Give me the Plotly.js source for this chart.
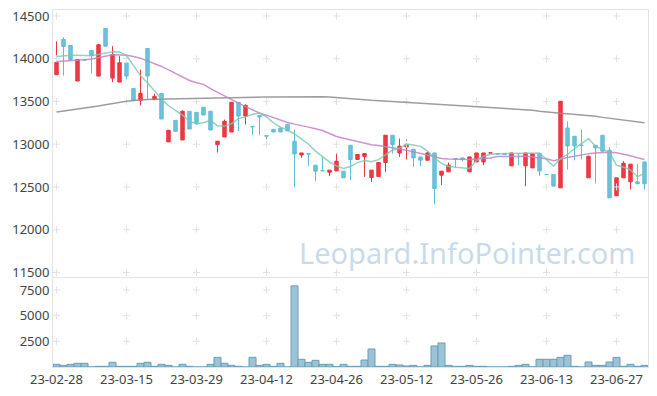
<!DOCTYPE html>
<html>
<head>
<meta charset="utf-8">
<script src="https://cdn.plot.ly/plotly-3.0.1.min.js"></script>
<style>html,body{margin:0;padding:0;background:#fff;}#chart{width:657px;height:396px;}</style>
</head>
<body>
<div id="chart"></div>
<script>
const dates = ["23-02-28",
"23-03-02","23-03-03","23-03-06","23-03-07","23-03-08","23-03-09","23-03-10","23-03-13","23-03-14","23-03-15","23-03-16","23-03-17","23-03-20","23-03-21","23-03-22","23-03-23","23-03-24","23-03-27","23-03-28","23-03-29","23-03-30","23-03-31",
"23-04-03","23-04-04","23-04-05","23-04-06","23-04-07","23-04-10","23-04-11","23-04-12","23-04-13","23-04-14","23-04-17","23-04-18","23-04-19","23-04-20","23-04-21","23-04-24","23-04-25","23-04-26","23-04-27","23-04-28",
"23-05-02","23-05-03","23-05-04","23-05-08","23-05-09","23-05-10","23-05-11","23-05-12","23-05-15","23-05-16","23-05-17","23-05-18","23-05-19","23-05-22","23-05-23","23-05-24","23-05-25","23-05-26","23-05-30","23-05-31",
"23-06-01","23-06-02","23-06-05","23-06-07","23-06-08","23-06-09","23-06-12","23-06-13","23-06-14","23-06-15","23-06-16","23-06-19","23-06-20","23-06-21","23-06-22","23-06-23","23-06-26","23-06-27","23-06-28","23-06-29","23-06-30",
"23-07-03"];

const openP = [13813,14225,14155,13739,13990,14097,13797,14354,13774,13727,
13949,13653,13513,14120,13522,13595,13027,13279,13050,13385,
13373,13432,13385,12996,13085,13143,13490,13330,13210,13338,
13100,13175,13190,13233,13035,12875,12890,12755,12693,12673,
12688,12685,12988,12821,12856,12611,12623,12786,13105,12898,
12968,12941,12852,12813,12898,12638,12677,12833,12840,12677,
12793,12793,12898,12891,12891,12747,12891,12747,12723,12891,
12646,12646,12490,13190,13093,12990,12607,12988,13105,12930,
12397,12607,12560,12560,12793];
const highP = [14202,14252,14155,13992,13990,14097,14175,14354,14147,14030,
13949,13653,13872,14120,13592,13595,13163,13279,13397,13385,
13373,13432,13385,13035,13288,13490,13490,13467,13210,13338,
13100,13175,13190,13233,13171,12898,12890,12755,12852,12697,
12891,12685,12988,12880,12891,12697,12786,13105,13105,13066,
13055,12941,12852,12910,12898,12685,12786,12833,12840,12852,
12898,12898,12898,12891,12891,12898,12891,12898,12891,12891,
12646,12646,13502,13268,13093,13170,12860,12988,13105,12968,
12607,12802,12767,12767,12793];
const lowP = [13813,13805,13991,13739,13985,13825,13797,14147,13727,13727,
13755,13513,13455,13525,13522,13295,13027,13151,13050,13178,
13237,13342,13167,12903,13085,13143,13155,13230,13105,13105,
13055,13143,13143,13155,12495,12840,12743,12568,12690,12627,
12688,12607,12580,12821,12618,12560,12623,12677,12891,12852,
12821,12735,12743,12813,12296,12522,12677,12735,12800,12677,
12793,12755,12898,12885,12880,12747,12755,12510,12723,12630,
12646,12510,12490,12705,12813,12820,12607,12541,12918,12373,
12397,12607,12471,12537,12471];
const closeP = [13957,14144,13991,13992,13985,14039,14163,14147,14050,13953,
13797,13513,13595,13797,13560,13295,13163,13151,13385,13178,
13237,13342,13167,13035,13268,13490,13330,13455,13205,13318,
13095,13143,13143,13155,12887,12898,12885,12685,12690,12697,
12802,12607,12821,12880,12891,12697,12786,13105,12996,12977,
13000,12840,12813,12898,12483,12685,12755,12821,12821,12852,
12898,12898,12898,12885,12880,12898,12891,12898,12891,12688,
12646,12510,13502,12980,12980,12985,12860,12957,12918,12373,
12607,12778,12767,12537,12537];

const volume = [260,160,260,360,360,0,65,65,455,65,
65,65,360,455,65,260,160,0,260,65,
0,0,260,940,360,160,65,0,940,160,
260,65,360,0,7900,750,455,650,260,260,
30,260,65,65,680,1750,65,65,260,195,
100,160,0,160,2050,2340,160,65,65,160,
65,65,0,0,0,65,160,260,0,750,
750,750,940,1140,65,0,490,160,160,490,
940,65,260,65,160];

const ma5 = [14027,14035,14040,14040,14035,14035,14050,14070,14082,14080,
14040,13920,13800,13720,13620,13530,13450,13400,13340,13270,
13240,13255,13280,13215,13210,13240,13300,13320,13350,13365,
13320,13250,13200,13165,13120,13060,13000,12920,12850,12790,
12745,12716,12740,12785,12810,12795,12820,12880,12930,12955,
13000,12990,12975,12920,12840,12775,12740,12730,12725,12716,
12810,12860,12883,12889,12891,12891,12891,12893,12895,12898,
12820,12743,12833,12880,12950,13010,13066,12975,12945,12900,
12755,12730,12700,12620,12660];

const ma20 = [13968,13972,13976,13982,13988,13998,14012,14028,14047,14045,
14040,14025,14005,13975,13945,13910,13870,13830,13790,13745,
13720,13700,13650,13605,13560,13520,13480,13440,13400,13365,
13340,13310,13280,13255,13235,13220,13200,13180,13160,13125,
13090,13070,13050,13030,13012,12995,12985,12972,12960,12945,
12930,12912,12893,12870,12850,12833,12828,12824,12822,12821,
12826,12832,12840,12855,12858,12860,12860,12860,12850,12840,
12830,12807,12830,12845,12860,12875,12890,12896,12902,12906,
12900,12885,12865,12842,12821];

const ma120 = [13377,13388,13399,13410,13420,13430,13446,13462,13478,13494,
13502,13510,13520,13523,13526,13528,13530,13533,13535,13537,
13540,13541,13542,13543,13544,13545,13546,13547,13548,13550,
13552,13553,13554,13555,13556,13557,13558,13560,13556,13552,
13547,13541,13535,13528,13520,13513,13508,13504,13499,13494,
13490,13485,13481,13476,13472,13467,13463,13458,13453,13448,
13443,13438,13434,13430,13425,13419,13413,13408,13398,13387,
13377,13367,13362,13356,13350,13344,13338,13326,13314,13302,
13290,13280,13270,13260,13250];

const priceTicks = [11500,12000,12500,13000,13500,14000,14500];
const volTicks = [2500,5000,7500];
const dateTicks = dates.filter((d, i) => i % 10 === 0);

const gridX = [], gridY = [], gridX2 = [], gridY2 = [];
dateTicks.forEach(d => {
  priceTicks.forEach(p => { gridX.push(d); gridY.push(p); });
  volTicks.forEach(v => { gridX2.push(d); gridY2.push(v); });
});

const crossMarker = {symbol: 'cross-thin', size: 5, color: '#e2e2e2', line: {color: '#e2e2e2', width: 1}};

const traces = [
  {type: 'scatter', mode: 'markers', x: gridX, y: gridY, xaxis: 'x2', yaxis: 'y2',
   marker: crossMarker, hoverinfo: 'skip', showlegend: false},
  {type: 'scatter', mode: 'markers', x: gridX2, y: gridY2, xaxis: 'x', yaxis: 'y',
   marker: crossMarker, hoverinfo: 'skip', showlegend: false},
  {type: 'candlestick', x: dates, open: openP, high: highP, low: lowP, close: closeP,
   xaxis: 'x2', yaxis: 'y2', showlegend: false, whiskerwidth: 0,
   increasing: {line: {color: '#e9343e', width: 1}, fillcolor: '#ee3a44'},
   decreasing: {line: {color: '#62bdd6', width: 1}, fillcolor: '#6cc3da'}},
  {type: 'scatter', mode: 'lines', x: dates, y: ma120, xaxis: 'x2', yaxis: 'y2',
   line: {color: 'rgba(140,140,140,0.85)', width: 1.5}, showlegend: false, hoverinfo: 'skip'},
  {type: 'scatter', mode: 'lines', x: dates, y: ma20, xaxis: 'x2', yaxis: 'y2',
   line: {color: 'rgba(196,130,196,0.85)', width: 1.5}, showlegend: false, hoverinfo: 'skip'},
  {type: 'scatter', mode: 'lines', x: dates, y: ma5, xaxis: 'x2', yaxis: 'y2',
   line: {color: 'rgba(120,200,180,0.8)', width: 1.5}, showlegend: false, hoverinfo: 'skip'},
  {type: 'bar', x: dates, y: volume, xaxis: 'x', yaxis: 'y',
   marker: {color: '#9cc3d5', line: {color: '#6a9db6', width: 1}},
   showlegend: false, hoverinfo: 'skip'}
];

const axisFont = {family: 'Noto Sans, DejaVu Sans, sans-serif', size: 13, color: '#444'};

const layout = {
  width: 657, height: 396,
  margin: {l: 53, r: 9, t: 10, b: 29, pad: 0},
  paper_bgcolor: '#fff', plot_bgcolor: '#fff',
  showlegend: false,
  bargap: 0,
  xaxis: {
    type: 'category', categoryorder: 'array', categoryarray: dates,
    range: [-0.5, dates.length - 0.5], anchor: 'y',
    tickmode: 'array', tickvals: dateTicks, ticktext: dateTicks,
    tickfont: axisFont, showgrid: false, zeroline: false, ticks: '',
    showline: true, linecolor: '#e3e3e3', linewidth: 1, mirror: true,
    fixedrange: true
  },
  xaxis2: {
    type: 'category', categoryorder: 'array', categoryarray: dates,
    anchor: 'y2', showticklabels: false,
    range: [-0.5, dates.length - 0.5],
    showgrid: false, zeroline: false, ticks: '',
    showline: true, linecolor: '#e3e3e3', linewidth: 1, mirror: true,
    rangeslider: {visible: false}, fixedrange: true
  },
  yaxis: {
    domain: [0, 0.2493], range: [0, 8669], anchor: 'x',
    tickmode: 'array', tickvals: volTicks, ticktext: volTicks.map(String),
    tickfont: axisFont, showgrid: false, zeroline: false, ticks: '',
    showline: true, linecolor: '#e3e3e3', linewidth: 1, mirror: true,
    fixedrange: true
  },
  yaxis2: {
    domain: [0.2521, 1], range: [11447, 14570], anchor: 'x2',
    tickmode: 'array', tickvals: priceTicks, ticktext: priceTicks.map(String),
    tickfont: axisFont, showgrid: false, zeroline: false, ticks: '',
    showline: true, linecolor: '#e3e3e3', linewidth: 1, mirror: true,
    fixedrange: true
  },
  annotations: [{
    text: 'Leopard.InfoPointer.com', xref: 'paper', yref: 'paper',
    x: 0.984, y: 0.32, xanchor: 'right', yanchor: 'middle', showarrow: false,
    font: {family: 'Noto Sans, sans-serif', size: 29, color: 'rgba(165,195,218,0.6)'}
  }]
};

Plotly.newPlot('chart', traces, layout, {staticPlot: true, displayModeBar: false});
</script>
</body>
</html>
